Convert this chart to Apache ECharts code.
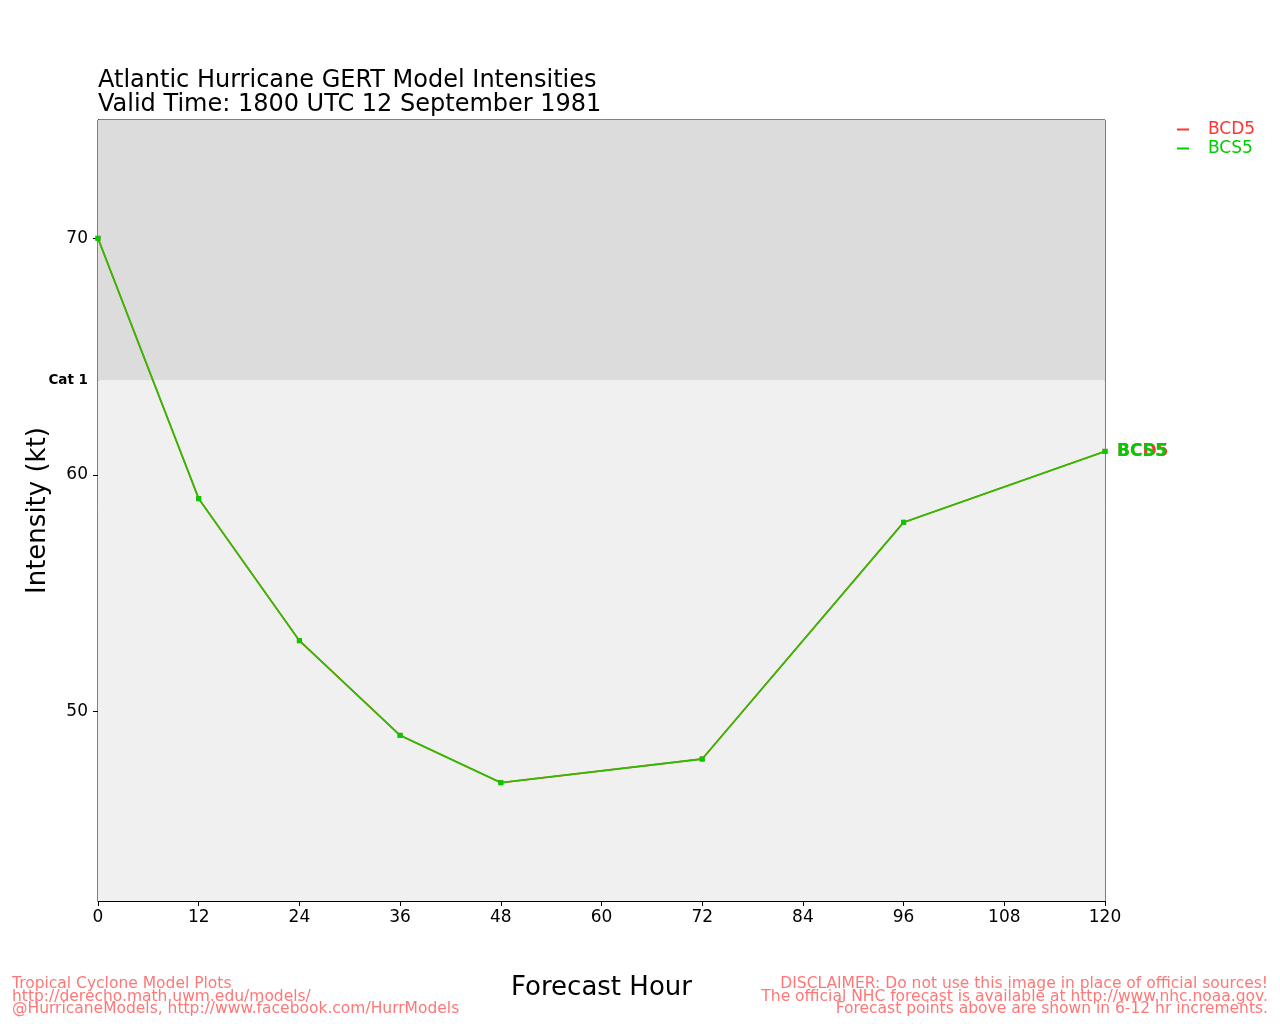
<!DOCTYPE html>
<html>
<head>
<meta charset="utf-8">
<script src="https://cdn.jsdelivr.net/npm/echarts@6/dist/echarts.min.js"></script>
<style>html,body{margin:0;padding:0;background:#fff}#c{width:1280px;height:1024px}</style>
</head>
<body>
<div id="c"></div>
<script>
const hours = [0, 12, 24, 36, 48, 72, 96, 120];
const bcd5 = [70, 59, 53, 49, 47, 48, 58, 61];
const bcs5 = [70, 59, 53, 49, 47, 48, 58, 61];
const xTicks = [0, 12, 24, 36, 48, 60, 72, 84, 96, 108, 120];
const yTicks = [50, 60, 70];
const cat1 = 64;
const yMin = 42, yMax = 75;
const titleLines = ['Atlantic Hurricane GERT Model Intensities', 'Valid Time: 1800 UTC 12 September 1981'];
const footLeft = ['Tropical Cyclone Model Plots', 'http://derecho.math.uwm.edu/models/', '@HurricaneModels, http://www.facebook.com/HurrModels'];
const footRight = ['DISCLAIMER: Do not use this image in place of official sources!', 'The official NHC forecast is available at http://www.nhc.noaa.gov.', 'Forecast points above are shown in 6-12 hr increments.'];

const FONT = 'DejaVu Sans';
const chart = echarts.init(document.getElementById('c'));
const pairs = (vals) => hours.map((h, i) => [h, vals[i]]);
const footStyle = { fontSize: 15.5, fontFamily: FONT, fill: '#ff7777', lineHeight: 12.5 };

chart.setOption({
  animation: false,
  backgroundColor: '#fff',
  textStyle: { fontFamily: FONT },
  title: [
    { text: titleLines.join('\n'), left: 93, top: 64, textStyle: { fontSize: 24, fontWeight: 'normal', color: '#000', fontFamily: FONT, lineHeight: 24 } }
  ],
  graphic: [
    { type: 'text', left: 12, top: 976, style: Object.assign({ text: footLeft.join('\n'), textAlign: 'left' }, footStyle) },
    { type: 'text', right: 12, top: 976, style: Object.assign({ text: footRight.join('\n'), textAlign: 'right' }, footStyle) }
  ],
  legend: {
    orient: 'vertical', left: 1172, top: 116, itemGap: 2, itemWidth: 12, itemHeight: 2,
    icon: 'rect',
    data: [
      { name: 'BCD5', textStyle: { color: '#ff3333' } },
      { name: 'BCS5', textStyle: { color: '#00cc00' } }
    ],
    textStyle: { fontSize: 17, fontFamily: FONT, padding: [0, 0, 0, 14] }
  },
  grid: { left: 98, right: 175, top: 120, bottom: 123, outerBoundsMode: 'none', containLabel: false, show: true, borderColor: '#000', borderWidth: 1, backgroundColor: 'transparent' },
  xAxis: {
    type: 'value', min: 0, max: 120, interval: 12,
    name: 'Forecast Hour', nameLocation: 'middle', nameGap: 74,
    nameTextStyle: { fontSize: 26, color: '#000', fontFamily: FONT },
    axisLine: { show: true, onZero: false, lineStyle: { color: '#000' } },
    axisTick: { show: true, length: 5, lineStyle: { color: '#000' } },
    axisLabel: { fontSize: 17, color: '#000', margin: 8 },
    splitLine: { show: false }
  },
  yAxis: {
    type: 'value', min: yMin, max: yMax,
    name: 'Intensity (kt)', nameLocation: 'middle', nameGap: 47, nameMoveOverlap: false,
    nameTextStyle: { fontSize: 26, color: '#000', fontFamily: FONT },
    axisLine: { show: true, lineStyle: { color: '#000' } },
    axisTick: { show: true, length: 5, customValues: yTicks, lineStyle: { color: '#000' } },
    axisLabel: {
      customValues: yTicks.concat([cat1]), fontSize: 17, color: '#000', margin: 10,
      formatter: (v) => v === cat1 ? '{c|Cat 1}' : String(v),
      rich: { c: { fontSize: 13.5, fontWeight: 'bold', color: '#000', padding: [0, 0, 0, 0] } }
    },
    splitLine: { show: false }
  },
  series: [
    {
      name: 'BCD5', type: 'line', data: pairs(bcd5), z: 2,
      symbol: 'rect', symbolSize: 5,
      itemStyle: { color: '#ff3333' }, lineStyle: { color: '#ff3333', width: 1.5 },
      endLabel: { show: true, formatter: '{a}', color: '#ff3333', fontSize: 17, fontWeight: 'bold', offset: [4, 0], fontFamily: FONT },
      markArea: {
        silent: true,
        data: [
          [{ yAxis: yMin, itemStyle: { color: '#f0f0f0' } }, { yAxis: cat1 }],
          [{ yAxis: cat1, itemStyle: { color: '#dcdcdc' } }, { yAxis: yMax }]
        ]
      }
    },
    {
      name: 'BCS5', type: 'line', data: pairs(bcs5), z: 3,
      symbol: 'rect', symbolSize: 5,
      itemStyle: { color: '#00cc00' }, lineStyle: { color: '#33bb00', width: 1.8 },
      endLabel: { show: true, formatter: '{a}', color: '#00cc00', fontSize: 17, fontWeight: 'bold', offset: [4, 0], fontFamily: FONT }
    }
  ]
});
</script>
</body>
</html>
